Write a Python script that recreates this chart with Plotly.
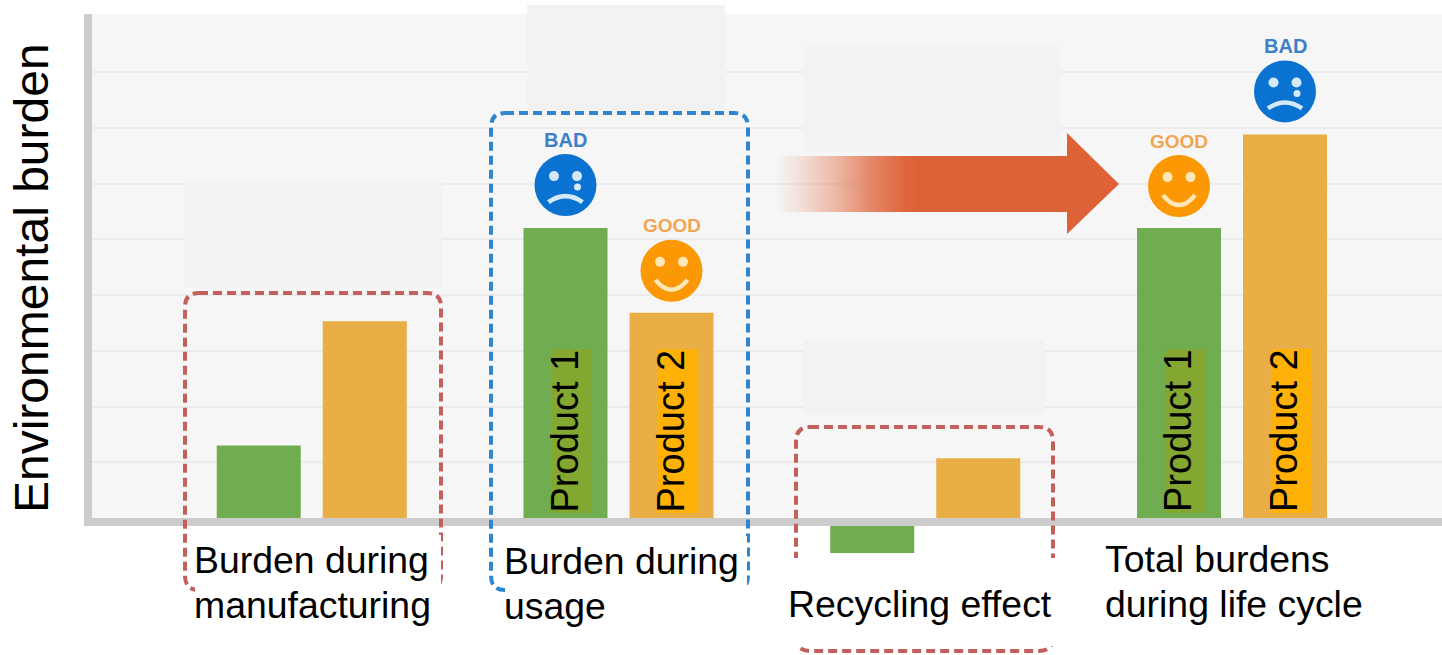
import plotly.graph_objects as go

# Stage groups and the burden of each product, in gridline units
stages = ["Burden during manufacturing", "Burden during usage", "Recycling effect", "Total burdens during life cycle"]
product_1 = [1.3, 5.2, -0.63, 5.2]
product_2 = [3.53, 3.68, 1.07, 6.88]
series_names = ["Product 1", "Product 2"]
y_title = "Environmental burden"
gridline_values = [1, 2, 3, 4, 5, 6, 7, 8]
# (stage index, product index, verdict) for the smiley markers
verdicts = [(1, 0, "BAD"), (1, 1, "GOOD"), (3, 0, "GOOD"), (3, 1, "BAD")]
labelled_stages = [1, 3]

W, H = 1442, 655
PLOT_L, PLOT_T, PLOT_B = 92, 14, 562
BASELINE = 518
AXIS_W = 8
GROUP_0, GROUP_STEP = 311.75, 306.75
UNIT = 55.75
BAR_OFFSET, BAR_W = 53, 84

GREEN, ORANGE = "#70ad50", "#e9ae45"
BLUE_FACE, ORANGE_FACE = "#0a73d2", "#fb9804"
FONT = "Liberation Sans"


# Pixel position helpers for annotations and decorations
def xp(px):
    return (px - PLOT_L) / (W - PLOT_L)


def yp(py):
    return 1 - (py - PLOT_T) / (PLOT_B - PLOT_T)


def xd(px):
    return (px - GROUP_0) / GROUP_STEP


def yd(py):
    return (BASELINE - py) / UNIT


def bar_x(stage, product):
    return stage + (-1 if product == 0 else 1) * BAR_OFFSET / GROUP_STEP


def px_of_x(x):
    return GROUP_0 + x * GROUP_STEP


def py_of_y(y):
    return BASELINE - y * UNIT


fig = go.Figure()
for idx, (name, vals, col) in enumerate(zip(series_names, [product_1, product_2], [GREEN, ORANGE])):
    fig.add_bar(
        x=[bar_x(i, idx) for i in range(len(stages))],
        y=vals,
        width=BAR_W / GROUP_STEP,
        name=name,
        marker=dict(color=col, line_width=0),
        showlegend=False,
    )

# Arrow pointing at the life cycle totals, fading in from the left
ax = [775, 1067, 1067, 1119, 1067, 1067, 775, 775]
ay = [156, 156, 133, 184, 234, 212, 212, 156]
fig.add_scatter(
    x=[xd(v) for v in ax],
    y=[yd(v) for v in ay],
    mode="lines",
    line=dict(width=0, color="rgba(222,98,55,0)"),
    fill="toself",
    fillgradient=dict(
        type="horizontal",
        colorscale=[
            [0.0, "rgba(222,98,55,0)"],
            [0.067, "rgba(222,98,55,0.14)"],
            [0.178, "rgba(222,98,55,0.42)"],
            [0.29, "rgba(222,98,55,0.78)"],
            [0.38, "rgba(222,98,55,0.97)"],
            [0.42, "rgba(222,98,55,1)"],
            [1.0, "rgba(222,98,55,1)"],
        ],
    ),
    hoverinfo="skip",
    showlegend=False,
)


def rect(x0, y0, x1, y1, color, layer="above"):
    return dict(type="rect", xref="paper", yref="paper", x0=xp(x0), x1=xp(x1), y0=yp(y0), y1=yp(y1),
                fillcolor=color, line_width=0, layer=layer)


def rounded_path(x0, y0, x1, y1, r):
    pts = [
        f"M{xp(x0 + r)},{yp(y0)}", f"L{xp(x1 - r)},{yp(y0)}", f"Q{xp(x1)},{yp(y0)} {xp(x1)},{yp(y0 + r)}",
        f"L{xp(x1)},{yp(y1 - r)}", f"Q{xp(x1)},{yp(y1)} {xp(x1 - r)},{yp(y1)}",
        f"L{xp(x0 + r)},{yp(y1)}", f"Q{xp(x0)},{yp(y1)} {xp(x0)},{yp(y1 - r)}",
        f"L{xp(x0)},{yp(y0 + r)}", f"Q{xp(x0)},{yp(y0)} {xp(x0 + r)},{yp(y0)}", "Z",
    ]
    return " ".join(pts)


def dashed_box(x0, y0, x1, y1, color):
    return dict(type="path", xref="paper", yref="paper", path=rounded_path(x0, y0, x1, y1, 14),
                line=dict(color=color, width=4, dash="9px,5px"), layer="above")


def disc(cx, cy, r, color):
    return dict(type="circle", xref="paper", yref="paper", x0=xp(cx - r), x1=xp(cx + r),
                y0=yp(cy - r), y1=yp(cy + r), fillcolor=color, line_width=0, layer="above")


shapes = [
    # Chart panel, kept under the gridlines and ending at the baseline
    rect(PLOT_L, PLOT_T, W, BASELINE, "#f6f6f6", layer="below"),
    # Axis rails drawn over the bars
    rect(PLOT_L - AXIS_W, PLOT_T, PLOT_L, BASELINE + AXIS_W, "#cccccc"),
    rect(PLOT_L - AXIS_W, BASELINE, W, BASELINE + AXIS_W, "#cccccc"),
    # Pale panels behind the upper part of the chart
    rect(184, 182, 442, 287, "#f2f2f2"),
    rect(527, 5, 725, 110, "#f2f2f2"),
    rect(804, 46, 1060, 152, "#f2f2f2"),
    rect(803, 340, 1045, 413, "#f2f2f2"),
    # Highlighted stage boxes
    dashed_box(185, 293, 441, 590, "#c4605c"),
    dashed_box(491, 113, 748, 590, "#2f86cf"),
    dashed_box(796, 427, 1053, 651, "#c4605c"),
    # White backing for the stage captions
    rect(195, 535, 441, 640, "#ffffff"),
    rect(505, 536, 747, 640, "#ffffff"),
    rect(788, 558, 1063, 646, "#ffffff"),
]

annotations = []


def text(label, px, py, size, color="#000000", angle=0, anchor="left", bold=False):
    annotations.append(dict(
        text=f"<b>{label}</b>" if bold else label,
        x=xp(px), y=yp(py), xref="paper", yref="paper",
        xanchor=anchor, yanchor="middle", textangle=angle, showarrow=False,
        font=dict(family=FONT, size=size, color=color),
    ))


text(y_title, 31, 278, 48, angle=-90, anchor="center")

# Stage captions, broken onto lines as they are set
CAPTION = 37.4
text("Burden during", 192, 560, CAPTION)
text("manufacturing", 192, 605, CAPTION)
text("Burden during", 502, 561, CAPTION)
text("usage", 502, 606, CAPTION)
text(stages[2], 786, 604, CAPTION)
text("Total burdens", 1103, 559, CAPTION)
text("during life cycle", 1103, 604, CAPTION)

# Product names rotated inside the bars of the labelled stages
for stage in labelled_stages:
    for prod, fill in enumerate(["#83a731", "#ffb107"]):
        cx = px_of_x(bar_x(stage, prod))
        shapes.append(rect(cx - 14, 349, cx + 26, 513, fill))
        text(series_names[prod], cx - 1, 431, 38, angle=-90, anchor="center")

# Smiley markers sit a fixed distance above their bar
series = [product_1, product_2]
for stage, prod, verdict in verdicts:
    cx = px_of_x(bar_x(stage, prod))
    good = verdict == "GOOD"
    cy = py_of_y(series[prod][stage]) - (42 if good else 43)
    face = ORANGE_FACE if good else BLUE_FACE
    detail = "#ffe8b8" if good else "#d5e9f8"
    shapes.append(disc(cx, cy, 31, face))
    shapes.append(disc(cx - 11.5, cy - 9, 5, detail))
    shapes.append(disc(cx + 11.5, cy - 9, 5, detail))
    if good:
        mouth = f"M{xp(cx - 16)},{yp(cy + 9)} Q{xp(cx)},{yp(cy + 29)} {xp(cx + 16)},{yp(cy + 9)}"
    else:
        shapes.append(disc(cx + 12, cy + 2, 3.5, detail))
        mouth = f"M{xp(cx - 17)},{yp(cy + 17)} Q{xp(cx)},{yp(cy + 5)} {xp(cx + 17)},{yp(cy + 17)}"
    shapes.append(dict(type="path", xref="paper", yref="paper", path=mouth,
                       line=dict(color=detail, width=4.5), layer="above"))
    text(verdict, cx, cy - 45, 19 if good else 20, color="#f0a552" if good else "#3d80c8",
         anchor="center", bold=True)

fig.update_layout(
    width=W,
    height=H,
    autosize=False,
    margin=dict(l=PLOT_L, r=0, t=PLOT_T, b=H - PLOT_B, pad=0),
    paper_bgcolor="#ffffff",
    plot_bgcolor="#ffffff",
    barmode="overlay",
    shapes=shapes,
    annotations=annotations,
    xaxis=dict(
        range=[xd(PLOT_L), xd(W)],
        showgrid=False,
        zeroline=False,
        showticklabels=False,
        ticks="",
        showline=False,
        fixedrange=True,
    ),
    yaxis=dict(
        range=[yd(PLOT_B), yd(PLOT_T)],
        tickvals=gridline_values,
        showgrid=True,
        gridcolor="#ebebeb",
        gridwidth=2,
        zeroline=False,
        showticklabels=False,
        ticks="",
        showline=False,
        fixedrange=True,
    ),
)

fig.write_html("out.html", config=dict(displayModeBar=False))
